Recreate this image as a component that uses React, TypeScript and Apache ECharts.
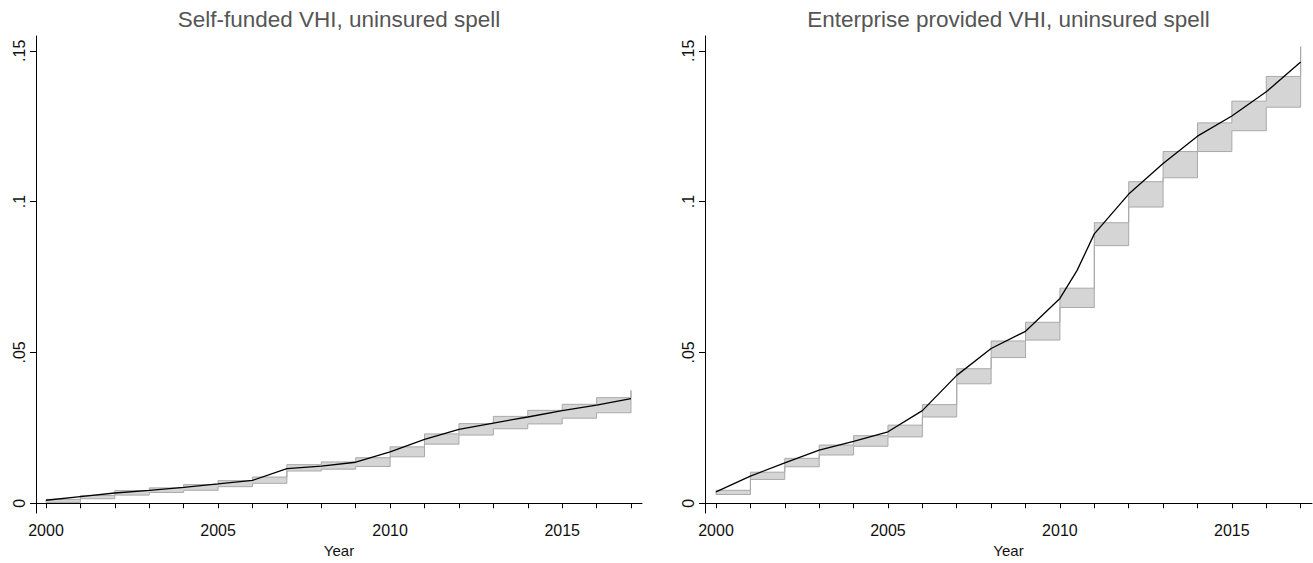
import React, { useEffect, useRef } from "react";
import * as echarts from "echarts";

// Years on the horizontal axis
const years = [2000, 2001, 2002, 2003, 2004, 2005, 2006, 2007, 2008, 2009, 2010, 2011, 2012, 2013, 2014, 2015, 2016, 2017];
const yearLabels = [2000, 2005, 2010, 2015];
const yTicks = [0, 0.05, 0.1, 0.15];

// Self-funded VHI: estimate and step-wise confidence band
const selfLine = [0.0010, 0.0022, 0.0034, 0.0043, 0.0053, 0.0064, 0.0076, 0.0115, 0.0123, 0.0136, 0.0170, 0.0212, 0.0245, 0.0266, 0.0286, 0.0307, 0.0325, 0.0347];
const selfLow = [0.0003, 0.0015, 0.0027, 0.0036, 0.0043, 0.0055, 0.0066, 0.0107, 0.0113, 0.0122, 0.0154, 0.0196, 0.0226, 0.0247, 0.0263, 0.0282, 0.0300, 0.0320];
const selfHigh = [0.0013, 0.0026, 0.0042, 0.0051, 0.0062, 0.0075, 0.0087, 0.0128, 0.0137, 0.0151, 0.0187, 0.0230, 0.0264, 0.0288, 0.0308, 0.0328, 0.0350, 0.0374];

// Enterprise provided VHI: estimate and step-wise confidence band
const entLineYears = [2000, 2001, 2002, 2003, 2004, 2005, 2006, 2007, 2008, 2009, 2010, 2010.5, 2011, 2012, 2013, 2014, 2015, 2016, 2017];
const entLine = [0.0038, 0.0090, 0.0134, 0.0176, 0.0205, 0.0237, 0.0307, 0.0424, 0.0513, 0.0570, 0.0679, 0.0772, 0.0893, 0.1025, 0.1126, 0.1217, 0.1284, 0.1364, 0.1463];
const entLow = [0.0029, 0.0079, 0.0121, 0.0160, 0.0189, 0.0220, 0.0286, 0.0396, 0.0483, 0.0541, 0.0649, 0.0854, 0.0982, 0.1079, 0.1166, 0.1235, 0.1313, 0.1410];
const entHigh = [0.0043, 0.0103, 0.0149, 0.0193, 0.0224, 0.0259, 0.0327, 0.0446, 0.0538, 0.0600, 0.0713, 0.0930, 0.1066, 0.1166, 0.1261, 0.1333, 0.1415, 0.1514];

const FONT = "Liberation Sans, Arial, Helvetica, sans-serif";
const BAND_FILL = "#d4d5d4";
const BAND_EDGE = "#a9a9a9";

// Build a staircase polygon: upper edge left to right, lower edge back
function bandRenderer(low: number[], high: number[]) {
  return (params: any, api: any) => {
    if (params.dataIndex !== 0) return null;
    const n = years.length;
    const pts: number[][] = [];
    for (let i = 0; i < n - 1; i++) {
      pts.push(api.coord([years[i], high[i]]));
      pts.push(api.coord([years[i + 1], high[i]]));
    }
    pts.push(api.coord([years[n - 1], high[n - 1]]));
    pts.push(api.coord([years[n - 1], low[n - 1]]));
    for (let i = n - 2; i >= 0; i--) {
      pts.push(api.coord([years[i + 1], low[i]]));
      pts.push(api.coord([years[i], low[i]]));
    }
    return {
      type: "polygon",
      shape: { points: pts },
      style: { fill: BAND_FILL, stroke: BAND_EDGE, lineWidth: 1 },
    };
  };
}

function xAxisFor(gridIndex: number, min: number, max: number) {
  return {
    type: "value",
    gridIndex,
    min,
    max,
    name: "Year",
    nameLocation: "middle",
    nameGap: 29,
    nameTextStyle: { fontFamily: FONT, fontSize: 15, color: "#111" },
    axisLine: { show: true, lineStyle: { color: "#000", width: 1 } },
    axisTick: { show: true, length: 5, customValues: years, lineStyle: { color: "#000" } },
    axisLabel: {
      customValues: yearLabels,
      fontFamily: FONT,
      fontSize: 16,
      color: "#111",
      margin: 9,
      formatter: (v: number) => String(Math.round(v)),
    },
    splitLine: { show: false },
  };
}

function yAxisFor(gridIndex: number) {
  return {
    type: "value",
    gridIndex,
    min: -0.00326,
    max: 0.1549,
    axisLine: { show: true, lineStyle: { color: "#000", width: 1 } },
    axisTick: { show: true, length: 6, customValues: yTicks, lineStyle: { color: "#000" } },
    axisLabel: {
      customValues: yTicks,
      rotate: 90,
      margin: 9,
      fontFamily: FONT,
      fontSize: 16,
      color: "#111",
      formatter: (v: number) => (v === 0 ? "0" : String(Number(v.toFixed(2))).replace(/^0/, "")),
    },
    splitLine: { show: false },
  };
}

export default function App() {
  const ref = useRef<HTMLDivElement>(null);

  useEffect(() => {
    if (!ref.current) return;
    const chart = echarts.init(ref.current, undefined, { renderer: "svg" });
    chart.setOption({
      animation: false,
      backgroundColor: "#fff",
      grid: [
        { left: 36, top: 36, width: 606, height: 485 },
        { left: 705, top: 36, width: 607, height: 485 },
      ],
      xAxis: [xAxisFor(0, 1999.7094, 2017.3197), xAxisFor(1, 1999.68, 2017.33)],
      yAxis: [yAxisFor(0), yAxisFor(1)],
      graphic: [
        {
          type: "text",
          x: 339,
          y: 8,
          style: {
            text: "Self-funded VHI, uninsured spell",
            fontFamily: FONT,
            fontSize: 22.5,
            fill: "#555",
            textAlign: "center",
            textVerticalAlign: "top",
          },
        },
        {
          type: "text",
          x: 1008.5,
          y: 8,
          style: {
            text: "Enterprise provided VHI, uninsured spell",
            fontFamily: FONT,
            fontSize: 22.5,
            fill: "#555",
            textAlign: "center",
            textVerticalAlign: "top",
          },
        },
      ],
      series: [
        {
          type: "custom",
          xAxisIndex: 0,
          yAxisIndex: 0,
          renderItem: bandRenderer(selfLow, selfHigh),
          data: years.map((y, i) => [y, selfLow[i], selfHigh[i]]),
          encode: { x: 0, y: [1, 2] },
          silent: true,
          z: 1,
        },
        {
          type: "line",
          xAxisIndex: 0,
          yAxisIndex: 0,
          data: years.map((y, i) => [y, selfLine[i]]),
          showSymbol: false,
          lineStyle: { color: "#000", width: 1.3 },
          z: 3,
        },
        {
          type: "custom",
          xAxisIndex: 1,
          yAxisIndex: 1,
          renderItem: bandRenderer(entLow, entHigh),
          data: years.map((y, i) => [y, entLow[i], entHigh[i]]),
          encode: { x: 0, y: [1, 2] },
          silent: true,
          z: 1,
        },
        {
          type: "line",
          xAxisIndex: 1,
          yAxisIndex: 1,
          data: entLineYears.map((y, i) => [y, entLine[i]]),
          showSymbol: false,
          lineStyle: { color: "#000", width: 1.3 },
          z: 3,
        },
      ],
    });
    return () => chart.dispose();
  }, []);

  return (
    <div
      ref={ref}
      style={{ position: "fixed", left: 0, top: 0, width: 1313, height: 563, background: "#fff" }}
    />
  );
}
